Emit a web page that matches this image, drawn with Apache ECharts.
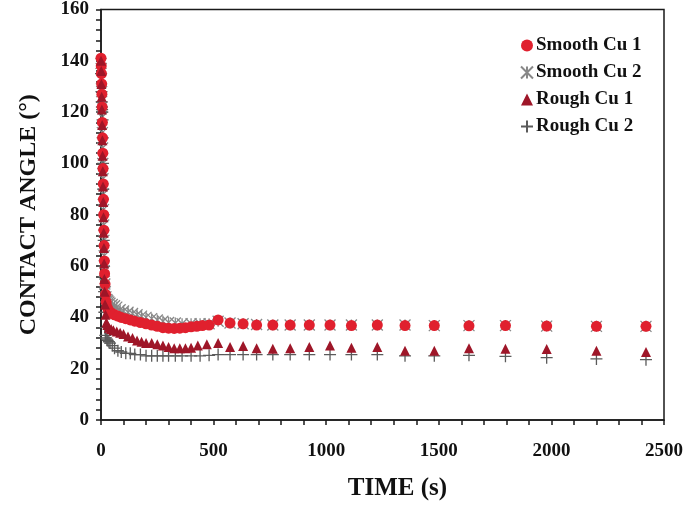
<!DOCTYPE html>
<html>
<head>
<meta charset="utf-8">
<script src="https://cdn.jsdelivr.net/npm/echarts@6/dist/echarts.min.js"></script>
<style>
  html, body { margin: 0; padding: 0; background: #fff; }
  #mychart { width: 686px; height: 506px; }
</style>
</head>
<body>
<div id="mychart"></div>
<script>
// [time (s), contact angle (deg)]
let smoothCu1 = [
  [0, 141], [1, 138], [2, 135], [3, 131], [4, 127], [5, 122], [6, 116], [7, 110],
  [8, 104], [9, 98], [10, 92], [11, 86], [12, 80], [13, 74], [14, 68], [15, 62],
  [16, 57], [18, 53], [20, 49], [23, 46], [27, 44], [32, 43], [40, 42], [50, 41.5],
  [60, 41], [75, 40.5], [90, 40], [110, 39.5], [130, 39], [150, 38.5], [175, 38],
  [200, 37.5], [225, 37], [250, 36.5], [275, 36], [300, 35.8], [325, 35.7], [350, 35.8],
  [375, 36], [400, 36.3], [425, 36.5], [450, 36.8], [480, 37], [520, 39], [573, 37.8],
  [631, 37.5], [691, 37], [763, 37], [840, 37], [925, 37], [1017, 37], [1112, 36.8],
  [1227, 37], [1350, 36.8], [1480, 36.8], [1634, 36.7], [1796, 36.8], [1979, 36.6],
  [2200, 36.5], [2420, 36.5]
];
let smoothCu2 = [
  [0, 139], [1, 137], [2, 133], [3, 128], [4, 122], [5, 118], [6, 112], [7, 106],
  [8, 100], [9, 94], [10, 88], [11, 82], [12, 76], [13, 70], [14, 64], [15, 58],
  [17, 53], [19, 50], [22, 48], [26, 47], [30, 46.5], [35, 46], [40, 45.5], [50, 45],
  [60, 44.5], [70, 44], [85, 43], [100, 42.5], [120, 42], [140, 41.5], [160, 41],
  [180, 40.5], [200, 40], [225, 39.5], [250, 39], [275, 38.5], [300, 38], [330, 37.8],
  [360, 37.5], [400, 37.5], [440, 37.5], [480, 37.5], [520, 38.5], [573, 37.8],
  [631, 37.5], [691, 37.2], [763, 37], [840, 37], [925, 37], [1017, 37], [1112, 37],
  [1227, 37], [1350, 37], [1480, 36.8], [1634, 36.8], [1796, 36.8], [1979, 36.6],
  [2200, 36.5], [2420, 36.5]
];
let roughCu1 = [
  [0, 140], [1, 136], [2, 131], [3, 126], [4, 121], [5, 115], [6, 109], [7, 103],
  [8, 97], [9, 91], [10, 85], [11, 79], [12, 73], [13, 67], [14, 61], [15, 55],
  [16, 50], [18, 45], [20, 41], [24, 38], [28, 37], [35, 36], [45, 35.5], [55, 35],
  [70, 34.5], [85, 34], [100, 33.5], [120, 32.5], [140, 32], [160, 31], [180, 30.5],
  [200, 30], [225, 30], [250, 29.5], [275, 29], [300, 28.5], [325, 28], [350, 28],
  [375, 28], [400, 28.2], [430, 29], [470, 29.5], [520, 30], [573, 28.5], [631, 28.8],
  [691, 28], [763, 27.8], [840, 28], [925, 28.5], [1017, 29], [1112, 28.2], [1227, 28.5],
  [1350, 27], [1480, 27], [1634, 28], [1796, 27.8], [1979, 27.7], [2200, 27], [2420, 26.5]
];
let roughCu2 = [
  [0, 135], [2, 128], [3, 124], [4, 122], [5, 121], [6, 120], [7, 117], [8, 110],
  [9, 100], [10, 90], [11, 80], [12, 70], [13, 60], [14, 50], [15, 42], [17, 36],
  [19, 33], [22, 32], [26, 31.5], [30, 31], [35, 30.5], [40, 30], [50, 29], [60, 28],
  [75, 27], [90, 26.5], [110, 26], [130, 26], [150, 25.5], [175, 25.5], [200, 25],
  [225, 25], [250, 25], [275, 25], [300, 25], [330, 25], [360, 25], [400, 25],
  [440, 25], [480, 25.2], [520, 25.5], [573, 25.5], [631, 25.5], [691, 25.5],
  [763, 25.5], [840, 25.5], [925, 25.5], [1017, 25.5], [1112, 25.5], [1227, 25.5],
  [1350, 25], [1480, 25], [1634, 25.2], [1796, 24.8], [1979, 24.3], [2200, 23.8],
  [2420, 23.5]
];
let seriesNames = ['Smooth Cu 1', 'Smooth Cu 2', 'Rough Cu 1', 'Rough Cu 2'];

let colors = {
  red: '#e0202e',
  darkRed: '#9e1628',
  cross: '#888888',
  plus: '#5a5a5a',
  axis: '#1a1a1a',
};
let font = '"Liberation Serif", "Times New Roman", serif';

let crossPath = 'path://M0,0L10,10M10,0L0,10M5,0L5,10';
let plusPath = 'path://M5,0L5,10M0,5L10,5';

let option = {
  animation: false,
  backgroundColor: '#fff',
  grid: {
    left: 101,
    right: 18,
    top: 7,
    bottom: 85,
    show: true,
    borderColor: colors.axis,
    borderWidth: 1.5,
  },
  legend: {
    data: seriesNames,
    orient: 'vertical',
    left: 515,
    top: 31,
    itemGap: 8,
    itemWidth: 12,
    itemHeight: 12,
    textStyle: {
      fontFamily: font,
      fontWeight: 'bold',
      fontSize: 19,
      color: '#111',
      padding: [0, 0, 0, -2],
    },
  },
  xAxis: {
    type: 'value',
    min: 0,
    max: 2500,
    interval: 500,
    name: 'TIME (s)',
    nameLocation: 'middle',
    nameGap: 56,
    nameTextStyle: {
      fontFamily: font,
      fontWeight: 'bold',
      fontSize: 25,
      color: '#111',
      padding: [0, 0, 0, 30],
    },
    axisLine: { lineStyle: { color: colors.axis, width: 1.5 } },
    axisTick: { length: 5, lineStyle: { color: colors.axis, width: 1.5 } },
    minorTick: { show: true, splitNumber: 5, length: 5, lineStyle: { color: colors.axis, width: 1.5 } },
    splitLine: { show: false },
    axisLabel: {
      margin: 22,
      formatter: (v) => String(v),
      fontFamily: font,
      fontWeight: 'bold',
      fontSize: 19,
      color: '#111',
    },
  },
  yAxis: {
    type: 'value',
    min: 0,
    max: 160,
    interval: 20,
    name: 'CONTACT ANGLE (°)',
    nameLocation: 'middle',
    nameGap: 60,
    nameTextStyle: {
      fontFamily: font,
      fontWeight: 'bold',
      fontSize: 24,
      color: '#111',
    },
    axisLine: { lineStyle: { color: colors.axis, width: 1.5 } },
    axisTick: { length: 5, lineStyle: { color: colors.axis, width: 1.5 } },
    minorTick: { show: true, splitNumber: 5, length: 5, lineStyle: { color: colors.axis, width: 1.5 } },
    splitLine: { show: false },
    axisLabel: {
      margin: 12,
      fontFamily: font,
      fontWeight: 'bold',
      fontSize: 19,
      color: '#111',
    },
  },
  series: [
    {
      name: 'Smooth Cu 2',
      type: 'scatter',
      data: smoothCu2,
      symbol: crossPath,
      symbolSize: 11,
      itemStyle: { color: 'rgba(0,0,0,0)', borderColor: colors.cross, borderWidth: 1.3, opacity: 1 },
      z: 1,
    },
    {
      name: 'Rough Cu 2',
      type: 'scatter',
      data: roughCu2,
      symbol: plusPath,
      symbolSize: 12,
      itemStyle: { color: 'rgba(0,0,0,0)', borderColor: colors.plus, borderWidth: 1.3, opacity: 1 },
      z: 1,
    },
    {
      name: 'Smooth Cu 1',
      type: 'scatter',
      data: smoothCu1,
      symbol: 'circle',
      symbolSize: 11,
      itemStyle: { color: colors.red, opacity: 1 },
      z: 3,
    },
    {
      name: 'Rough Cu 1',
      type: 'scatter',
      data: roughCu1,
      symbol: 'triangle',
      symbolSize: 10,
      itemStyle: { color: colors.darkRed, opacity: 1 },
      z: 3,
    },
  ],
};

let myChart = echarts.init(document.getElementById('mychart'));
myChart.setOption(option);
</script>
</body>
</html>
